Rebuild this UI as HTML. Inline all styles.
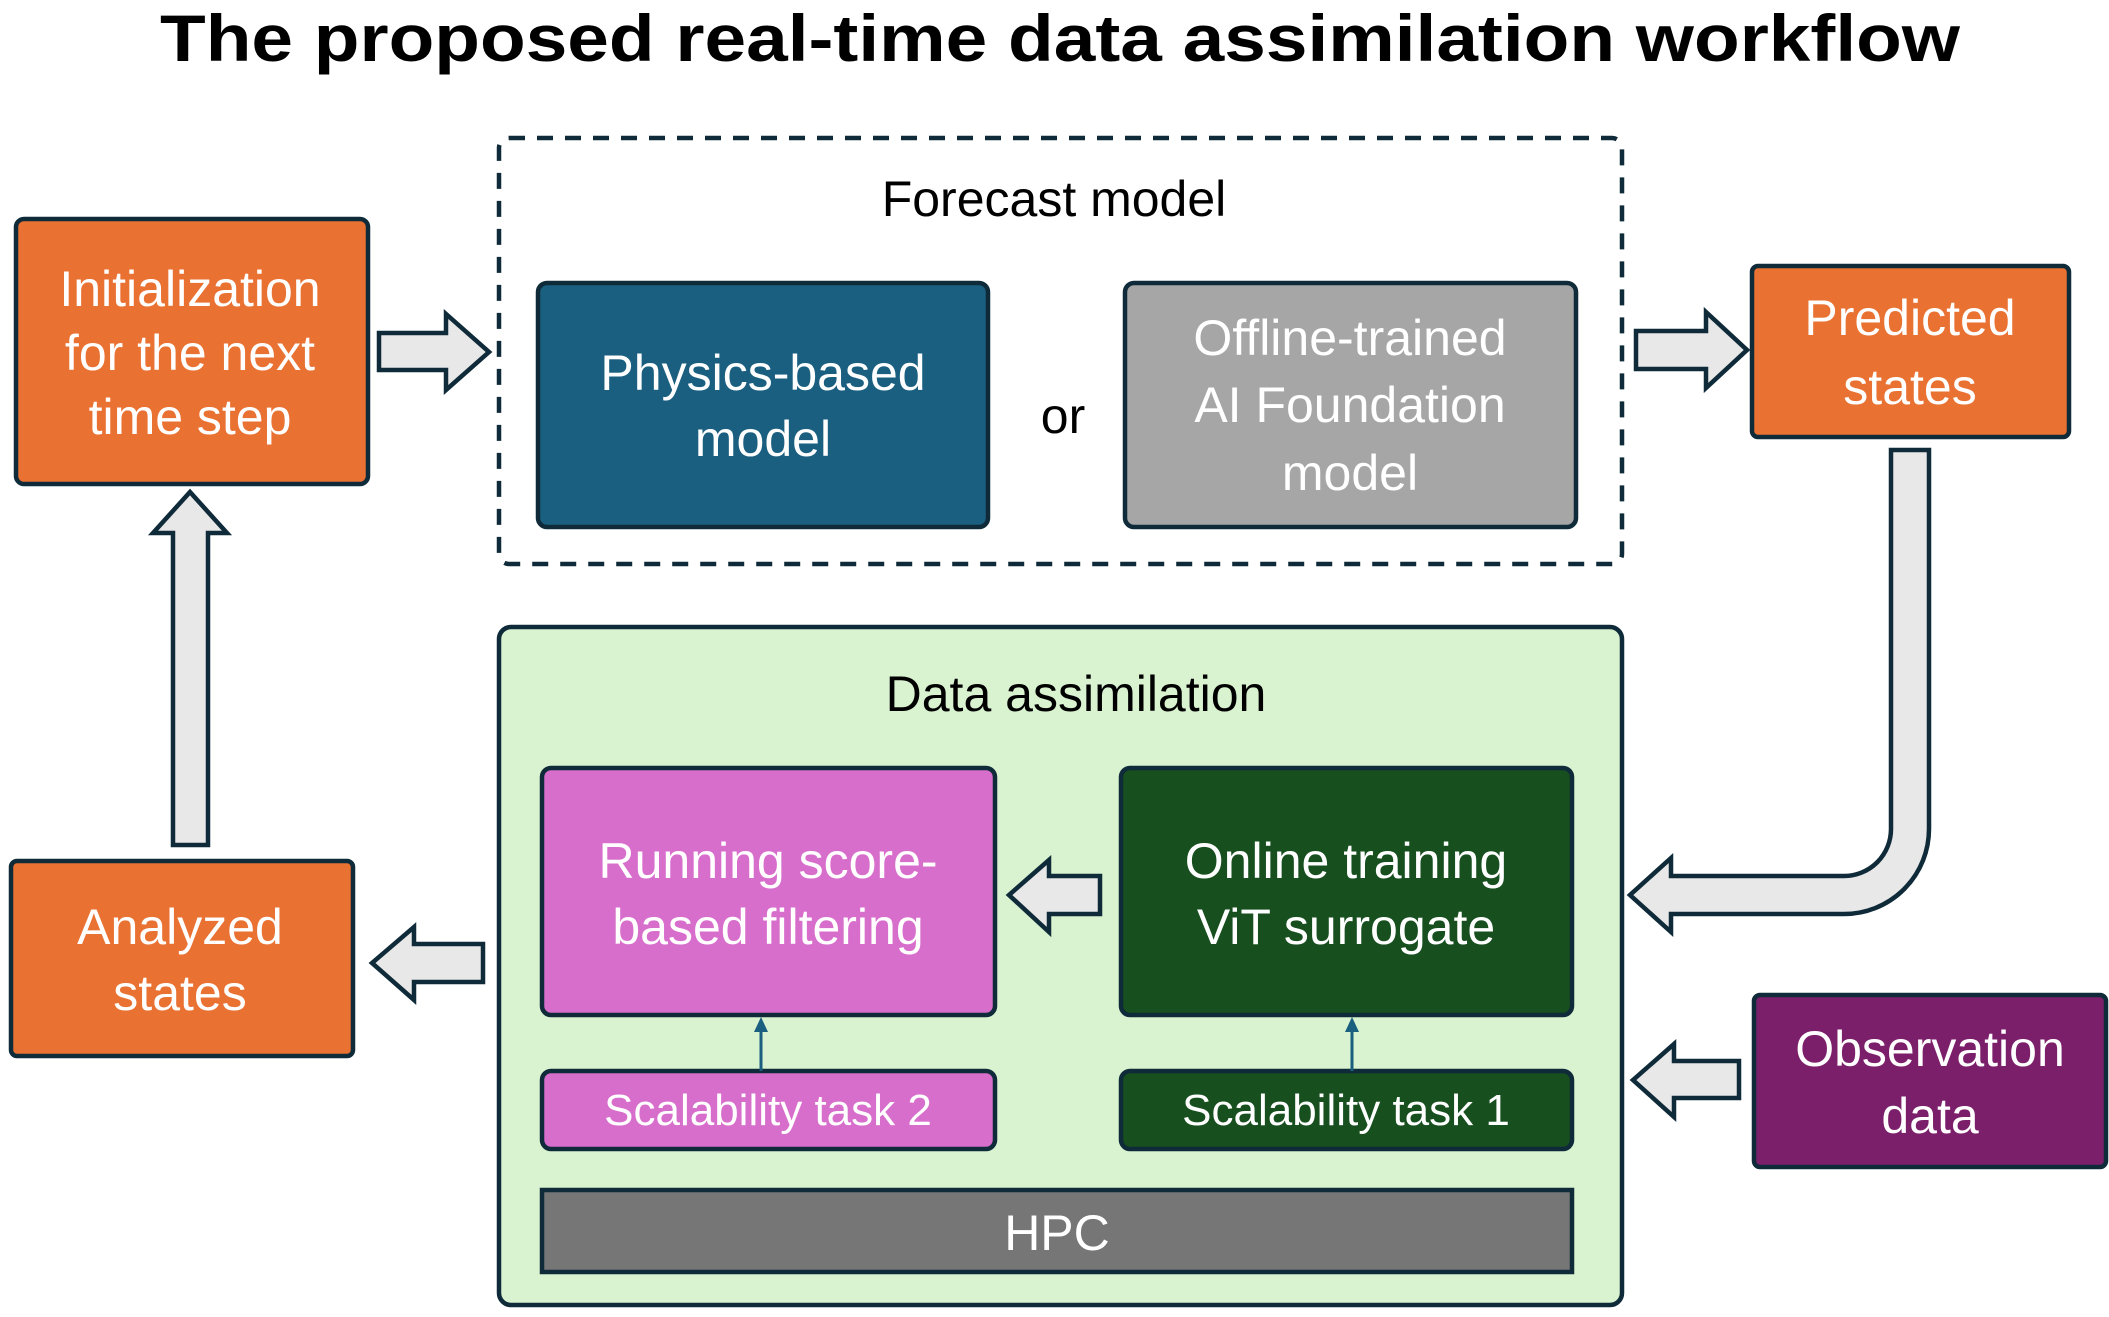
<!DOCTYPE html>
<html><head><meta charset="utf-8"><style>
html,body{margin:0;padding:0;background:#fff;}
svg{display:block;}
text{font-family:"Liberation Sans",sans-serif;}
</style></head><body>
<svg width="2109" height="1317" viewBox="0 0 2109 1317" xmlns="http://www.w3.org/2000/svg">
<g stroke="#0f2a38" stroke-width="4.5" stroke-linejoin="miter">
<text x="1060" y="61" font-size="66" font-weight="bold" text-anchor="middle" fill="#000" stroke="none" textLength="1800" lengthAdjust="spacingAndGlyphs">The proposed real-time data assimilation workflow</text>

<rect x="499" y="138" width="1123" height="426" rx="10" fill="none" stroke-dasharray="16,12"/>
<rect x="499" y="627" width="1123" height="678" rx="12" fill="#d9f2d0"/>

<rect x="16" y="219" width="352" height="265" rx="8" fill="#e97132"/>
<rect x="538" y="283" width="450" height="244" rx="9" fill="#1a5f80"/>
<rect x="1125" y="283" width="451" height="244" rx="9" fill="#a6a6a6"/>
<rect x="1752" y="266" width="317" height="171" rx="6" fill="#e97132"/>
<rect x="542" y="768" width="453" height="247" rx="9" fill="#d86ecc"/>
<rect x="1121" y="768" width="451" height="247" rx="9" fill="#174f1f"/>
<rect x="542" y="1071" width="453" height="78" rx="9" fill="#d86ecc"/>
<rect x="1121" y="1071" width="451" height="78" rx="9" fill="#174f1f"/>
<rect x="542" y="1190" width="1030" height="82" fill="#767676"/>
<rect x="11" y="861" width="342" height="195" rx="6" fill="#e97132"/>
<rect x="1754" y="995" width="352" height="172" rx="6" fill="#7b1f6a"/>

<g fill="#e8e8e8">
<polygon points="379,333 446,333 446,314 489,352 446,390 446,370 379,370"/>
<polygon points="1636,331 1706,331 1706,312 1747,350 1706,388 1706,369 1636,369"/>
<polygon points="173,845 173,533 153,533 190,492 227,533 208,533 208,845"/>
<polygon points="1100,876 1049,876 1049,860 1009,895 1049,932 1049,914 1100,914"/>
<polygon points="483,944 414,944 414,927 372,963 414,1000 414,982 483,982"/>
<polygon points="1739,1061 1674,1061 1674,1044 1633,1080 1674,1117 1674,1098 1739,1098"/>
<path d="M1891,450 L1929,450 L1929,829 A85,85 0 0 1 1844,914 L1671,914 L1671,932 L1630,895 L1671,858 L1671,876 L1844,876 A47,47 0 0 0 1891,829 Z"/>
</g>
</g>

<g stroke="#1a5f80" stroke-width="3" fill="#1a5f80">
<line x1="761" y1="1071" x2="761" y2="1030"/>
<polygon points="754,1032 761,1017 768,1032" stroke="none"/>
<line x1="1352" y1="1071" x2="1352" y2="1030"/>
<polygon points="1345,1032 1352,1017 1359,1032" stroke="none"/>
</g>

<g font-size="50" text-anchor="middle" fill="#fff">
<text x="190" y="306">Initialization</text>
<text x="190" y="370">for the next</text>
<text x="190" y="434">time step</text>
<text x="763" y="390">Physics-based</text>
<text x="763" y="456">model</text>
<text x="1350" y="355">Offline-trained</text>
<text x="1350" y="422">AI Foundation</text>
<text x="1350" y="490">model</text>
<text x="1910" y="335">Predicted</text>
<text x="1910" y="404">states</text>
<text x="768" y="878">Running score-</text>
<text x="768" y="944">based filtering</text>
<text x="1346" y="878">Online training</text>
<text x="1346" y="944">ViT surrogate</text>
<text x="180" y="944">Analyzed</text>
<text x="180" y="1010">states</text>
<text x="1930" y="1066">Observation</text>
<text x="1930" y="1133">data</text>
<text x="1057" y="1250">HPC</text>
<text x="768" y="1125" font-size="44">Scalability task 2</text>
<text x="1346" y="1125" font-size="44">Scalability task 1</text>
</g>
<g font-size="50" text-anchor="middle" fill="#000">
<text x="1054" y="216">Forecast model</text>
<text x="1063" y="433">or</text>
<text x="1076" y="711">Data assimilation</text>
</g>
</svg>
</body></html>
